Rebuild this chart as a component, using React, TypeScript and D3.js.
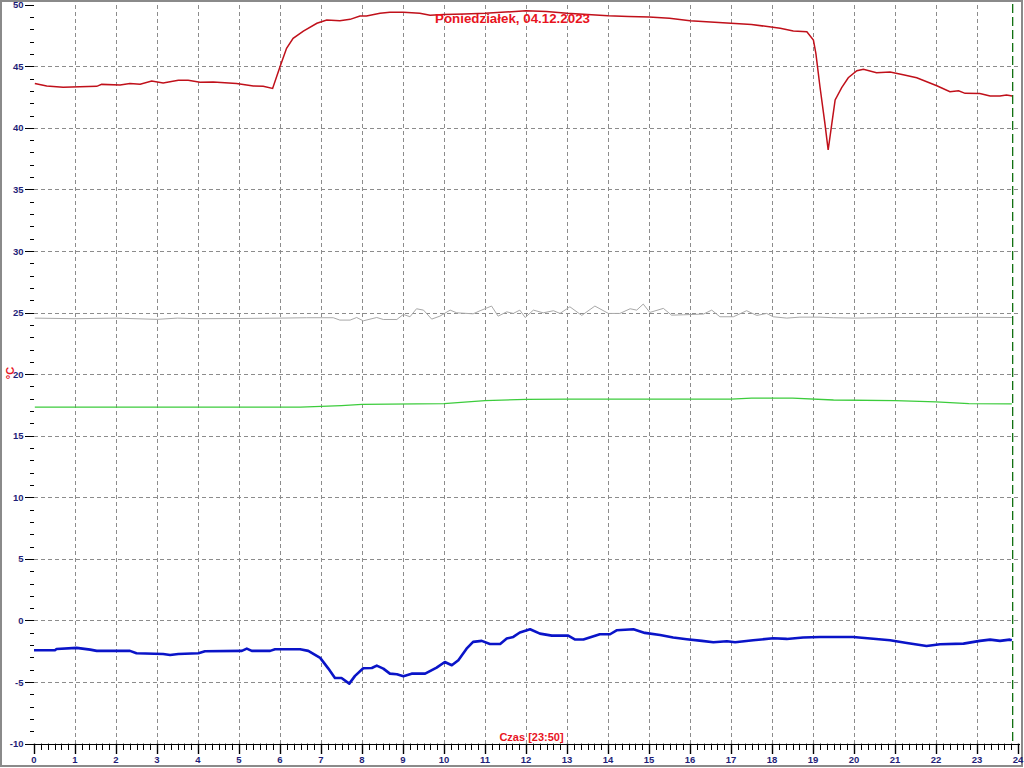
import React from "react";
import * as d3 from "d3";

const titleText = "Poniedziałek, 04.12.2023";
const xTitleText = "Czas [23:50]";
const yTitleText = "°C";
const currentHour = 23 + 50 / 60;

const hourTicks = d3.range(0, 25);
const minorHourTicks = d3.range(0, 24 * 6 + 1).map((i) => i / 6);
const yTicks = d3.range(-10, 51, 5);
const minorYTicks = d3.range(-10, 51, 1);

const redSeries: [number, number][] = [
  [0.02, 43.6], [0.31, 43.4], [0.71, 43.3], [1.53, 43.37], [1.65, 43.53], [2.1, 43.48], [2.34, 43.6],
  [2.59, 43.55], [2.87, 43.8], [3.15, 43.64], [3.52, 43.86], [3.76, 43.86], [4.05, 43.7], [4.37, 43.72],
  [4.94, 43.6], [5.35, 43.4], [5.59, 43.37], [5.82, 43.2], [6.0, 44.96], [6.16, 46.46], [6.32, 47.27],
  [6.57, 47.86], [6.9, 48.49], [7.14, 48.76], [7.46, 48.7], [7.71, 48.81], [7.95, 49.08], [8.11, 49.08],
  [8.44, 49.3], [8.68, 49.38], [9.01, 49.38], [9.41, 49.3], [9.66, 49.14], [10.0, 49.2], [10.5, 49.25],
  [11.0, 49.3], [11.5, 49.4], [12.0, 49.5], [12.5, 49.45], [13.0, 49.3], [13.5, 49.2], [14.0, 49.1],
  [14.5, 49.05], [15.0, 49.0], [15.5, 48.9], [16.0, 48.7], [16.5, 48.6], [17.0, 48.5], [17.5, 48.4],
  [18.2, 48.08], [18.52, 47.86], [18.85, 47.8], [19.01, 47.13], [19.07, 46.05], [19.17, 43.34],
  [19.29, 40.37], [19.37, 38.2], [19.46, 40.37], [19.54, 42.26], [19.7, 43.26], [19.86, 44.07],
  [20.07, 44.64], [20.23, 44.75], [20.55, 44.48], [20.88, 44.53], [21.2, 44.31], [21.53, 44.07],
  [22.02, 43.42], [22.34, 42.93], [22.55, 43.01], [22.71, 42.8], [23.07, 42.78], [23.32, 42.58],
  [23.56, 42.58], [23.72, 42.66], [23.86, 42.58],
];

const graySeries: [number, number][] = [
  [0.02, 24.55], [1.0, 24.5], [2.0, 24.55], [3.0, 24.45], [3.5, 24.55], [4.0, 24.5], [5.02, 24.52],
  [6.0, 24.55], [6.65, 24.58], [7.3, 24.58], [7.46, 24.39], [7.71, 24.39], [7.87, 24.6], [8.03, 24.33],
  [8.36, 24.6], [8.52, 24.44], [8.85, 24.44], [9.01, 24.85], [9.17, 24.66], [9.33, 25.31], [9.5, 25.2],
  [9.7, 24.47], [9.9, 24.71], [10.15, 25.2], [10.31, 24.98], [10.71, 24.9], [10.88, 25.15], [11.16, 25.53],
  [11.32, 24.71], [11.53, 25.06], [11.69, 24.93], [11.85, 25.2], [11.98, 24.6], [12.18, 25.2],
  [12.42, 24.98], [12.67, 25.15], [12.83, 24.93], [13.07, 25.47], [13.36, 24.77], [13.68, 25.53],
  [14.01, 24.93], [14.29, 24.93], [14.54, 25.31], [14.7, 25.2], [14.86, 25.69], [15.02, 25.01],
  [15.35, 25.34], [15.55, 24.79], [15.84, 24.82], [16.33, 24.88], [16.53, 25.2], [16.73, 24.66],
  [17.06, 24.66], [17.38, 25.15], [17.63, 24.77], [17.87, 24.93], [18.03, 24.66], [18.36, 24.55],
  [18.68, 24.63], [19.17, 24.63], [19.5, 24.58], [20.0, 24.55], [21.0, 24.6], [22.0, 24.6],
  [23.0, 24.62], [23.85, 24.6],
];

const greenSeries: [number, number][] = [
  [0.02, 17.32], [6.5, 17.32], [7.5, 17.45], [8.0, 17.55], [10.0, 17.6], [11.0, 17.85], [12.0, 17.95],
  [13.0, 17.97], [17.0, 17.97], [17.5, 18.05], [18.5, 18.05], [19.5, 17.9], [21.0, 17.85], [22.0, 17.75],
  [22.8, 17.6], [23.85, 17.58],
];

const blueSeries: [number, number][] = [
  [0.0, -2.42], [0.51, -2.42], [0.55, -2.32], [1.04, -2.23], [1.37, -2.37], [1.53, -2.47], [2.34, -2.47],
  [2.5, -2.66], [3.15, -2.72], [3.32, -2.8], [3.52, -2.72], [4.01, -2.66], [4.17, -2.5], [5.07, -2.47],
  [5.19, -2.29], [5.31, -2.47], [5.76, -2.47], [5.88, -2.34], [6.49, -2.34], [6.69, -2.47], [6.98, -3.04],
  [7.18, -3.91], [7.34, -4.67], [7.5, -4.67], [7.69, -5.13], [7.83, -4.5], [8.03, -3.88], [8.24, -3.86],
  [8.36, -3.67], [8.52, -3.91], [8.68, -4.32], [8.85, -4.37], [9.01, -4.53], [9.21, -4.32], [9.54, -4.32],
  [9.82, -3.83], [10.02, -3.37], [10.19, -3.64], [10.35, -3.23], [10.55, -2.29], [10.71, -1.74],
  [10.92, -1.66], [11.12, -1.91], [11.37, -1.91], [11.53, -1.47], [11.69, -1.34], [11.85, -0.98],
  [12.1, -0.71], [12.34, -1.07], [12.63, -1.23], [13.03, -1.23], [13.2, -1.55], [13.4, -1.55],
  [13.8, -1.12], [14.05, -1.12], [14.21, -0.8], [14.62, -0.71], [14.9, -1.01], [15.27, -1.18],
  [15.59, -1.39], [15.92, -1.53], [16.29, -1.66], [16.57, -1.77], [16.9, -1.69], [17.1, -1.77],
  [17.54, -1.61], [18.03, -1.45], [18.36, -1.5], [18.76, -1.39], [19.17, -1.34], [19.98, -1.34],
  [20.47, -1.48], [20.88, -1.61], [21.29, -1.83], [21.77, -2.07], [22.1, -1.93], [22.67, -1.88],
  [23.07, -1.66], [23.32, -1.56], [23.56, -1.66], [23.8, -1.56], [23.85, -1.61],
];

const W = 1024;
const H = 768;
const FONT = "'Liberation Sans', Arial, sans-serif";
const navy = "#1e1e78";
const titleRed = "#e8141e";

export default function App() {
  const x = d3.scaleLinear().domain([0, 24]).range([34, 1018]);
  const y = d3.scaleLinear().domain([-10, 50]).range([743.6, 4.7]);
  const line = d3
    .line<[number, number]>()
    .x((d) => x(d[0]))
    .y((d) => y(d[1]));

  const axisY = y(-10);

  return (
    <svg
      width={W}
      height={H}
      style={{ position: "absolute", left: 0, top: 0, background: "#fff" }}
      fontFamily={FONT}
    >
      <rect x={0} y={0} width={W} height={H} fill="#fff" />
      <rect x={1} y={1} width={1021} height={765} fill="none" stroke="#8a8a8a" strokeWidth={2} />

      {/* grid */}
      {yTicks
        .filter((v) => v > -10 && v < 50)
        .map((v) => (
          <line
            key={"gy" + v}
            x1={x(0)}
            x2={1019}
            y1={Math.round(y(v)) + 0.5}
            y2={Math.round(y(v)) + 0.5}
            stroke="#8c8c8c"
            strokeDasharray="4,3"
          />
        ))}
      {hourTicks
        .filter((h) => h > 0 && h < 24)
        .map((h) => (
          <line
            key={"gx" + h}
            x1={Math.round(x(h)) + 0.5}
            x2={Math.round(x(h)) + 0.5}
            y1={5}
            y2={axisY}
            stroke="#8c8c8c"
            strokeDasharray="4,3"
          />
        ))}

      {/* y ticks */}
      {minorYTicks.map((v) => {
        const major = v % 5 === 0;
        const yy = Math.round(y(v)) + 0.5;
        return <line key={"ty" + v} x1={major ? 25 : 30} x2={34} y1={yy} y2={yy} stroke="#000" strokeWidth={1} />;
      })}
      {yTicks.map((v) => (
        <text
          key={"ly" + v}
          x={23.5}
          y={y(v)}
          textAnchor="end"
          dominantBaseline="central"
          fontSize={9.5}
          fontWeight="bold"
          fill={navy}
        >
          {v}
        </text>
      ))}

      {/* x axis */}
      <line x1={x(0)} x2={1020} y1={Math.round(axisY) + 0.5} y2={Math.round(axisY) + 0.5} stroke="#000" />
      {minorHourTicks.map((h, i) => {
        const major = i % 6 === 0;
        const xx = Math.round(x(h)) + 0.5;
        return (
          <line
            key={"tx" + i}
            x1={xx}
            x2={xx}
            y1={axisY}
            y2={major ? 754 : 750}
            stroke="#000"
            strokeWidth={major ? 1.4 : 1}
          />
        );
      })}
      {hourTicks.map((h) => (
        <text key={"lx" + h} x={x(h)} y={762.5} textAnchor="middle" fontSize={9.5} fontWeight="bold" fill={navy}>
          {h}
        </text>
      ))}

      {/* series */}
      <path d={line(greenSeries) || ""} fill="none" stroke="#3ccc3c" strokeWidth={1.3} />
      <path d={line(graySeries) || ""} fill="none" stroke="#a8a8a8" strokeWidth={1} />
      <path d={line(redSeries) || ""} fill="none" stroke="#c0101a" strokeWidth={1.5} />
      <path d={line(blueSeries) || ""} fill="none" stroke="#0a14c8" strokeWidth={2.6} strokeLinejoin="round" />

      {/* current time marker */}
      <line
        x1={x(currentHour) + 1.5}
        x2={x(currentHour) + 1.5}
        y1={4}
        y2={axisY}
        stroke="#107010"
        strokeWidth={1.3}
        strokeDasharray="9,4"
      />

      {/* titles */}
      <text
        x={512.5}
        y={22.5}
        textAnchor="middle"
        fontSize={13}
        fontWeight="bold"
        fill={titleRed}
        textLength={155}
        lengthAdjust="spacingAndGlyphs"
      >
        {titleText}
      </text>
      <text x={531.5} y={741} textAnchor="middle" fontSize={11} fontWeight="bold" fill={titleRed}>
        {xTitleText}
      </text>
      <text
        transform={`translate(14,373) rotate(-90)`}
        textAnchor="middle"
        fontSize={11}
        fontWeight="bold"
        fill={titleRed}
      >
        {yTitleText}
      </text>
    </svg>
  );
}
